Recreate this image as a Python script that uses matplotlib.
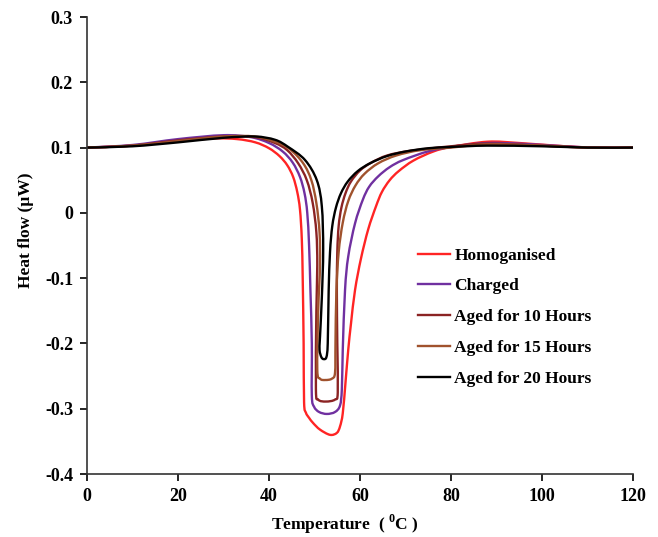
import matplotlib
matplotlib.use("Agg")
import numpy as np
import matplotlib.pyplot as plt
from matplotlib.path import Path
from matplotlib.patches import PathPatch
from matplotlib.lines import Line2D

plt.rcParams['font.family'] = ['Liberation Serif', 'DejaVu Serif']
plt.rcParams['font.weight'] = 'bold'
plt.rcParams['mathtext.fontset'] = 'custom'
plt.rcParams['mathtext.rm'] = 'Liberation Serif:bold'
plt.rcParams['mathtext.bf'] = 'Liberation Serif:bold'
plt.rcParams['axes.unicode_minus'] = False

# DSC traces (temperature in degC, heat flow in uW)
homog_t = [0, 10, 20, 28, 33, 37, 40, 42.3, 44, 45.3, 46.2, 46.8, 47.2, 47.4,
           47.6, 47.7, 48.1, 48.8, 49.7, 51.2, 53.4, 54.9, 55.6, 56.2, 56.8,
           57.4, 58.0, 58.9, 60.2, 61.8, 63.5, 64.8, 66.5, 68.5, 71.7, 76.1,
           80, 88, 95, 105, 112, 120]
homog_q = [0.1, 0.103, 0.11, 0.114, 0.113, 0.108, 0.099, 0.087, 0.073, 0.055,
           0.032, 0.005, -0.04, -0.1, -0.2, -0.29, -0.306, -0.314, -0.322,
           -0.332, -0.34, -0.337, -0.327, -0.307, -0.26, -0.21, -0.17, -0.118,
           -0.07, -0.025, 0.01, 0.032, 0.05, 0.064, 0.08, 0.094, 0.101, 0.109,
           0.107, 0.102, 0.1, 0.1]

charged_t = [0, 10, 20, 30, 36, 40, 43, 45.2, 46.8, 47.8, 48.4, 48.8, 49.1, 49.4,
             49.4, 49.9, 51, 52.7, 54.5, 55.6, 56.0, 56.2, 56.7, 57.4, 58.9,
             60.6, 62, 64, 66.5, 69.5, 75.4, 82, 88, 95, 105, 112, 120]
charged_q = [0.1, 0.104, 0.113, 0.119, 0.116, 0.107, 0.094, 0.077, 0.055, 0.03,
             0.0, -0.05, -0.12, -0.2, -0.28, -0.297, -0.305, -0.308, -0.305,
             -0.295, -0.27, -0.21, -0.118, -0.067, -0.016, 0.02, 0.04, 0.056,
             0.07, 0.081, 0.095, 0.103, 0.107, 0.106, 0.102, 0.1, 0.1]

aged10_t = [0, 10, 20, 30, 36.9, 41.3, 44, 46.4, 48.3, 49.6, 50.4, 50.6, 50.4,
            50.3, 50.8, 52.5, 54.5, 55.1, 55.0, 54.9, 55.0, 55.3, 55.9, 56.8,
            58.0, 60, 62.5, 66, 71, 80, 88, 100, 110, 120]
aged10_q = [0.1, 0.103, 0.111, 0.117, 0.116, 0.107, 0.096, 0.076, 0.05, 0.015,
            -0.03, -0.08, -0.15, -0.27, -0.286, -0.289, -0.286, -0.275, -0.2,
            -0.12, -0.06, -0.02, 0.008, 0.03, 0.048, 0.065, 0.077, 0.088, 0.095,
            0.102, 0.106, 0.103, 0.1, 0.1]

aged15_t = [0, 10, 20, 30, 36.9, 41.3, 44.5, 47.5, 49.3, 50.4, 51.1, 51.2, 50.8,
            50.6, 51.2, 52.4, 53.8, 54.5, 54.6, 54.8, 55.3, 56.2, 57.4, 59, 61,
            64, 68, 73.2, 80, 88, 100, 110, 120]
aged15_q = [0.1, 0.103, 0.11, 0.117, 0.117, 0.109, 0.098, 0.076, 0.05, 0.015,
            -0.03, -0.08, -0.15, -0.24, -0.254, -0.256, -0.254, -0.245, -0.2,
            -0.12, -0.06, -0.015, 0.018, 0.042, 0.06, 0.076, 0.088, 0.096, 0.1,
            0.105, 0.103, 0.1, 0.1]

aged20_t = [0, 10, 20, 30, 36.9, 41.3, 44.2, 47.9, 50.5, 51.6, 51.9, 51.6, 51.2,
            51.1, 51.5, 52.0, 52.6, 52.9, 53.1, 53.4, 53.9, 54.7, 55.8, 57.3,
            59.5, 62.2, 65.9, 70, 75, 80, 88, 100, 110, 120]
aged20_q = [0.1, 0.102, 0.108, 0.115, 0.117, 0.112, 0.101, 0.081, 0.05, 0.01,
            -0.057, -0.13, -0.19, -0.21, -0.221, -0.224, -0.221, -0.2, -0.12,
            -0.06, -0.02, 0.008, 0.03, 0.048, 0.064, 0.076, 0.087, 0.094, 0.099,
            0.101, 0.103, 0.102, 0.1, 0.1]

labels = ['Homoganised', 'Charged', 'Aged for 10 Hours', 'Aged for 15 Hours',
          'Aged for 20 Hours']
colors = ['#ff2424', '#7030a0', '#8b2323', '#a0522d', '#000000']

x_ticks = [0, 20, 40, 60, 80, 100, 120]
y_ticks = [-0.4, -0.3, -0.2, -0.1, 0, 0.1, 0.2, 0.3]
y_tick_labels = ['-0.4', '-0.3', '-0.2', '-0.1', '0', '0.1', '0.2', '0.3']


def smooth_path(t, q):
    # Catmull-Rom through the points, written as cubic Bezier segments
    pts = np.column_stack([t, q]).astype(float)
    n = len(pts)
    verts = [pts[0]]
    codes = [Path.MOVETO]
    for i in range(n - 1):
        p0 = pts[max(i - 1, 0)]
        p1 = pts[i]
        p2 = pts[i + 1]
        p3 = pts[min(i + 2, n - 1)]
        verts += [p1 + (p2 - p0) / 6.0, p2 - (p3 - p1) / 6.0, p2]
        codes += [Path.CURVE4] * 3
    return Path(verts, codes)


fig = plt.figure(figsize=(6.58, 5.37), dpi=100)
ax = fig.add_axes([0.1322, 0.1173, 0.83, 0.851])

series = [(homog_t, homog_q), (charged_t, charged_q), (aged10_t, aged10_q),
          (aged15_t, aged15_q), (aged20_t, aged20_q)]
handles = []
for (t, q), lab, col in zip(series, labels, colors):
    ax.add_patch(PathPatch(smooth_path(t, q), fill=False, edgecolor=col,
                           lw=1.7, capstyle='round', joinstyle='round'))
    handles.append(Line2D([], [], color=col, lw=1.7, label=lab))

ax.set_xlim(0, 120)
ax.set_ylim(-0.4, 0.3)
ax.set_xticks(x_ticks)
ax.set_yticks(y_ticks)
ax.set_yticklabels(y_tick_labels)
ax.tick_params(direction='out', length=5, width=1.2, labelsize=13, pad=5)
for s in ['top', 'right']:
    ax.spines[s].set_visible(False)
for s in ['left', 'bottom']:
    ax.spines[s].set_linewidth(1.2)
    ax.spines[s].set_color('#333333')

ax.set_xlabel('Temperature  ( $^{0}$C )', fontsize=12.5, fontweight='bold')
ax.set_ylabel('Heat flow (µW)', fontsize=12.5, fontweight='bold')
ax.xaxis.set_label_coords(0.4725, -0.085)
ax.yaxis.set_label_coords(-0.097, 0.534)

ax.legend(handles=handles, loc='upper left', bbox_to_anchor=(0.5775, 0.53),
          frameon=False, fontsize=12.5, handlelength=1.85, handletextpad=0.25,
          labelspacing=0.85)

fig.savefig('out.png', dpi=100)
